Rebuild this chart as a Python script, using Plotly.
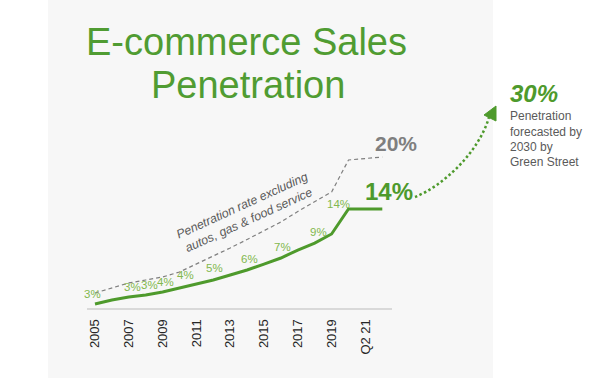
import plotly.graph_objects as go

# ---------------- data ----------------
years = [2005, 2006, 2007, 2008, 2009, 2010, 2011, 2012, 2013, 2014,
         2015, 2016, 2017, 2018, 2019, 2020, 2022]
ecom_pen = [3.00, 3.47, 3.81, 4.05, 4.39, 4.86, 5.32, 5.78, 6.36, 6.94,
            7.63, 8.33, 9.25, 10.06, 11.11, 14.0, 14.0]
ex_autos_pen = [4.28, 4.86, 5.44, 5.78, 6.13, 6.71, 7.63, 8.50, 9.49, 10.47,
                11.49, 12.50, 13.71, 14.81, 15.97, 19.67, 20.02]
tick_years = [2005, 2007, 2009, 2011, 2013, 2015, 2017, 2019, 2021]
tick_labels = ["2005", "2007", "2009", "2011", "2013", "2015", "2017", "2019", "Q2 21"]
point_labels = ["3%", "3%", "3%", "4%", "4%", "5%", "6%", "7%", "9%", "14%"]
label_years = [2004.88, 2007.19, 2008.2, 2009.2, 2010.33, 2012.1, 2014.17, 2016.07, 2018.2, 2019.38]

# ---------------- layout helpers ----------------
label_pos = [4.16, 4.97, 5.20, 5.55, 6.36, 7.17, 8.21, 9.60, 11.34, 14.58]
L, R, T, B = 87, 392, 140, 308
W, H = R - L, B - T


def px(x):
    return (x - L) / W


def py(y):
    return (B - y) / H


GREEN = "#4e9a2c"
LGREEN = "#82b84e"
GRAY = "#7f7f7f"
DGRAY = "#5a5a5a"
NARROW = "Liberation Sans Narrow, Arial Narrow, Liberation Sans, Arial, sans-serif"
SANS = "Liberation Sans, Arial, sans-serif"

fig = go.Figure()
fig.add_trace(go.Scatter(x=years, y=ex_autos_pen, mode="lines",
                         line=dict(color=GRAY, width=1.2, dash="4px,3px"),
                         hoverinfo="skip", showlegend=False))
fig.add_trace(go.Scatter(x=years, y=ecom_pen, mode="lines",
                         line=dict(color=GREEN, width=3),
                         hoverinfo="skip", showlegend=False))

ann = []
for xv, yv, t in zip(label_years, label_pos, point_labels):
    ann.append(dict(x=xv, y=yv, xref="x", yref="y", text=t, showarrow=False,
                    font=dict(family=NARROW, size=11.5, color=LGREEN),
                    xanchor="center", yanchor="middle"))

# title
ann.append(dict(x=px(246), y=py(41.5), xref="paper", yref="paper",
                text="E-commerce Sales", showarrow=False,
                font=dict(family=SANS, size=38, color="#509c32"),
                xanchor="center", yanchor="middle"))
ann.append(dict(x=px(248), y=py(85), xref="paper", yref="paper",
                text="Penetration", showarrow=False,
                font=dict(family=SANS, size=38, color="#509c32"),
                xanchor="center", yanchor="middle"))

# big end labels
ann.append(dict(x=px(373), y=py(143), xref="paper", yref="paper",
                text="<b>20%</b>", showarrow=False,
                font=dict(family=NARROW, size=21, color=GRAY),
                xanchor="left", yanchor="middle"))
ann.append(dict(x=px(363), y=py(191), xref="paper", yref="paper",
                text="<b>14%</b>", showarrow=False,
                font=dict(family=NARROW, size=24, color=GREEN),
                xanchor="left", yanchor="middle"))

# rotated description
ann.append(dict(x=px(245), y=py(213), xref="paper", yref="paper",
                text="<i>Penetration rate excluding<br>autos, gas &amp; food service</i>",
                showarrow=False, textangle=-24.5,
                font=dict(family=NARROW, size=12.3, color=DGRAY),
                xanchor="center", yanchor="middle"))

# forecast
ann.append(dict(x=px(508), y=py(93), xref="paper", yref="paper",
                text="<b><i>30%</i></b>", showarrow=False,
                font=dict(family=NARROW, size=24, color=GREEN),
                xanchor="left", yanchor="middle"))
for i, line in enumerate(["Penetration", "forecasted by", "2030 by", "Green Street"]):
    ann.append(dict(x=px(508), y=py(116.3 + 15.2 * i), xref="paper", yref="paper",
                    text=line, showarrow=False,
                    font=dict(family=NARROW, size=12, color=DGRAY),
                    xanchor="left", yanchor="middle"))

shapes = [
    dict(type="rect", xref="paper", yref="paper", x0=px(48), x1=px(493),
         y0=py(378), y1=py(0), fillcolor="#f7f7f7", line=dict(width=0), layer="below"),
    dict(type="path", xref="paper", yref="paper",
         path=f"M {px(415)},{py(197)} C {px(445)},{py(185)} {px(480)},{py(150)} {px(489)},{py(117)}",
         line=dict(color=GREEN, width=2.5, dash="2.5px,2.5px")),
    dict(type="path", xref="paper", yref="paper",
         path=f"M {px(496)},{py(106)} L {px(484)},{py(115)} L {px(496)},{py(121)} Z",
         fillcolor=GREEN, line=dict(color=GREEN, width=1)),
]

fig.update_layout(
    width=600, height=380,
    margin=dict(l=L, r=600 - R, t=T, b=380 - B, pad=0),
    paper_bgcolor="white", plot_bgcolor="rgba(0,0,0,0)",
    annotations=ann, shapes=shapes, showlegend=False,
    xaxis=dict(range=[2005 - 8 / 16.9, 2005 + 297 / 16.9], tickmode="array",
               tickvals=tick_years, ticktext=tick_labels, tickangle=-90,
               showgrid=False, zeroline=False, showline=True,
               linecolor="#d9d9d9", linewidth=2, ticks="", ticklabelstandoff=4,
               tickfont=dict(family=SANS, size=13, color="#262626")),
    yaxis=dict(range=[14 - 99 / 8.64, 14 + 69 / 8.64], visible=False,
               showgrid=False, zeroline=False),
)

fig.write_html("out.html", config={"displayModeBar": False},
               post_script="document.body.style.margin='0';")
